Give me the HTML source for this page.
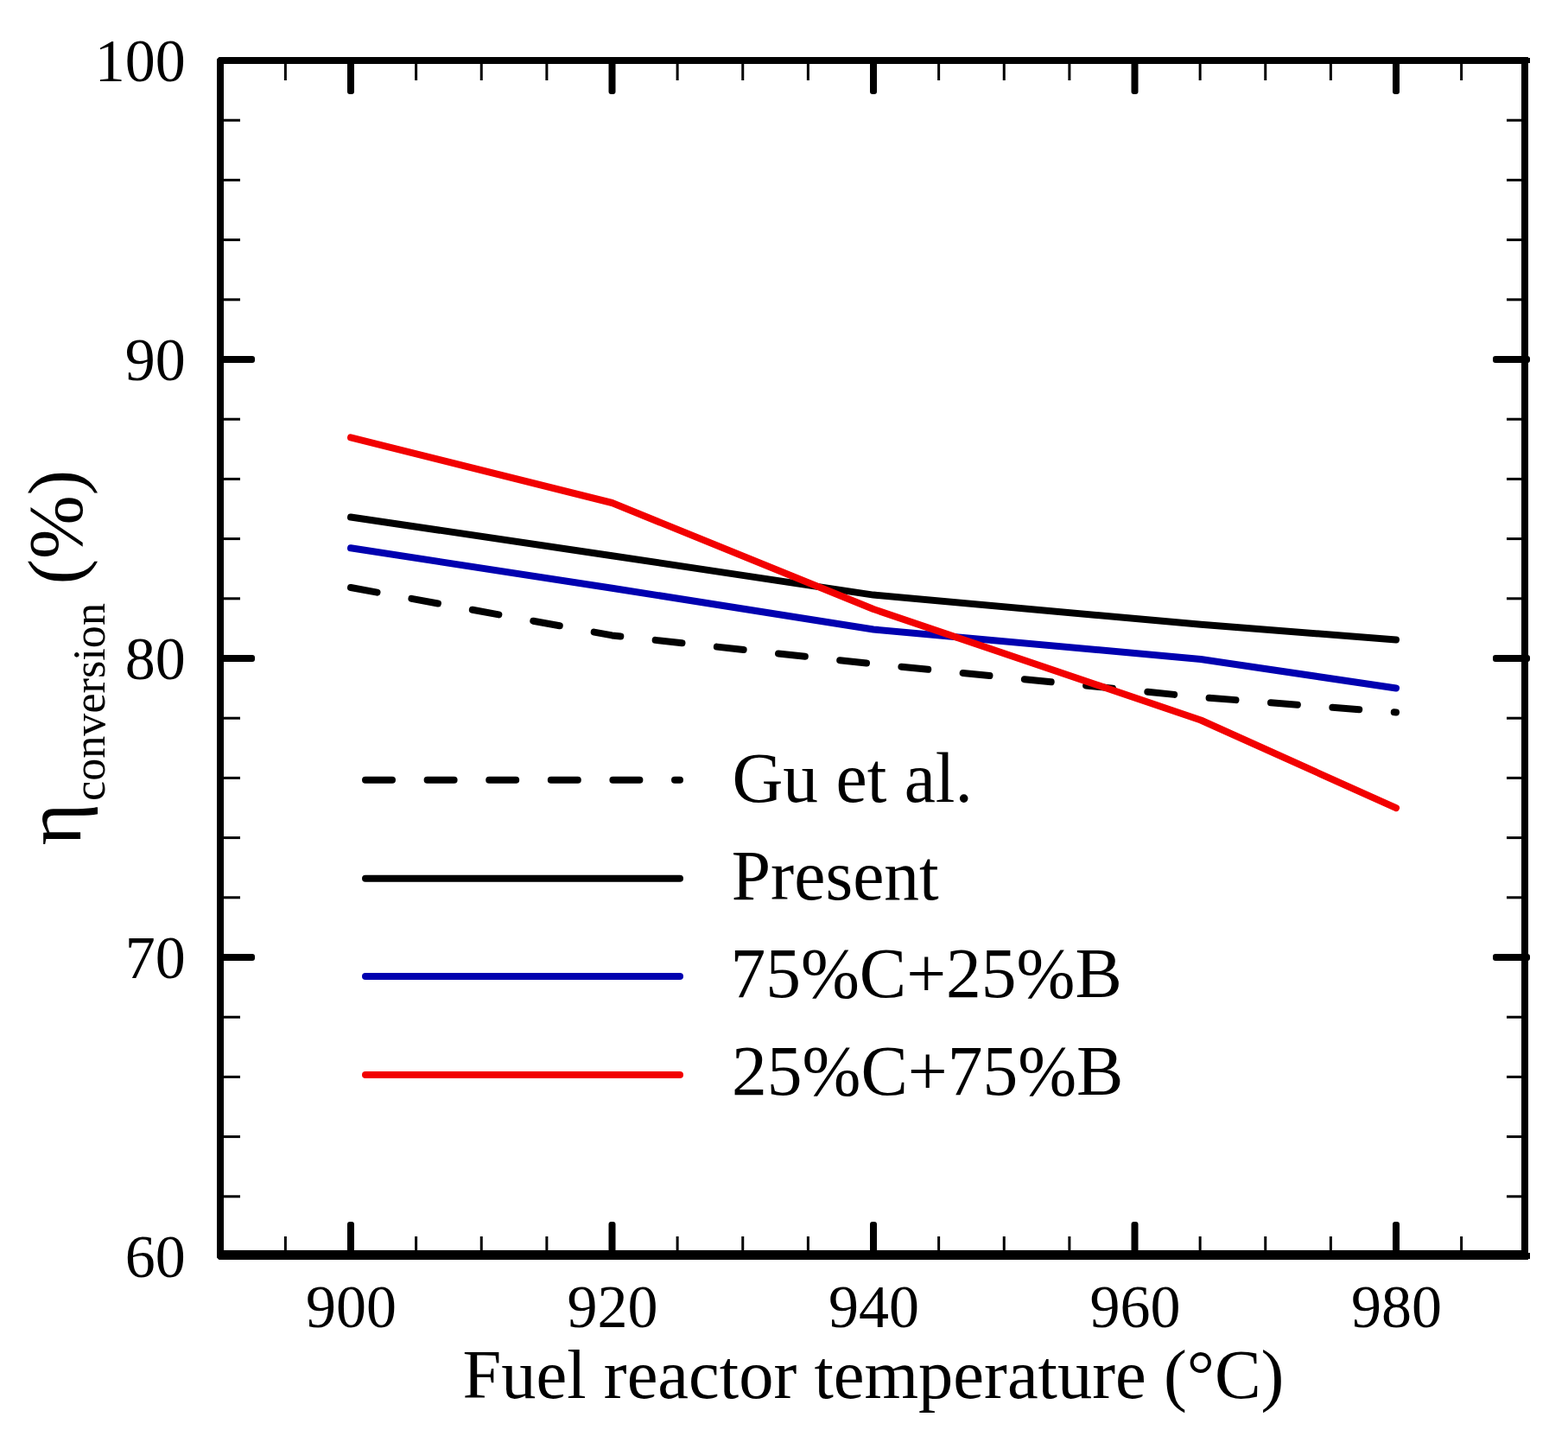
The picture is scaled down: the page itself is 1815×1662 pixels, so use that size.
<!DOCTYPE html>
<html><head><meta charset="utf-8"><title>Fuel reactor temperature chart</title>
<style>html,body{margin:0;padding:0;background:#fff;width:1815px;height:1662px;overflow:hidden}svg{display:block}text{font-family:"Liberation Serif","Times New Roman",serif;fill:#000}</style></head><body>
<svg width="1815" height="1662" viewBox="0 0 1815 1662">
<rect x="0" y="0" width="1815" height="1662" fill="#fff"/>
<g fill="none" stroke-width="8" stroke-linecap="round" stroke-linejoin="round">
<polyline points="406,680 708.5,735.4 1011,768.4 1390,807 1616,824.5" stroke="#000" stroke-dasharray="31 40.6"/>
<polyline points="406,598.5 708.5,643.2 1011,688.6 1390,722.8 1616,740.5" stroke="#000"/>
<polyline points="406,634.3 708.5,680.7 1011,728.5 1390,763 1616,796.5" stroke="#0000b0"/>
<polyline points="406,506.4 708.5,582 1011,705 1390,833.5 1616,935.2" stroke="#f20000"/>
<line x1="423" y1="902.7" x2="787" y2="902.7" stroke="#000" stroke-dasharray="31 40.6"/>
<line x1="423" y1="1016.7" x2="787" y2="1016.7" stroke="#000"/>
<line x1="423" y1="1130" x2="787" y2="1130" stroke="#0000b0"/>
<line x1="423" y1="1244" x2="787" y2="1244" stroke="#f20000"/>
</g>
<g fill="#000">
<rect x="251" y="66" width="8" height="1392"/>
<rect x="1761" y="66" width="8" height="1392"/>
<rect x="251" y="66" width="1518" height="8"/>
<rect x="1769" y="67" width="2" height="6"/>
<rect x="251" y="1447" width="1518" height="11"/>
<rect x="1769" y="1450" width="2" height="7"/>
<rect x="259" y="1383.3" width="19" height="3"/>
<rect x="1744" y="1383.3" width="17" height="3"/>
<rect x="259" y="1314.1" width="19" height="3"/>
<rect x="1744" y="1314.1" width="17" height="3"/>
<rect x="259" y="1244.9" width="19" height="3"/>
<rect x="1744" y="1244.9" width="17" height="3"/>
<rect x="259" y="1175.7" width="19" height="3"/>
<rect x="1744" y="1175.7" width="17" height="3"/>
<rect x="255" y="1104.0" width="40" height="8" rx="3"/>
<rect x="1728" y="1104.0" width="43" height="8" rx="3"/>
<rect x="259" y="1037.3" width="19" height="3"/>
<rect x="1744" y="1037.3" width="17" height="3"/>
<rect x="259" y="968.1" width="19" height="3"/>
<rect x="1744" y="968.1" width="17" height="3"/>
<rect x="259" y="898.9" width="19" height="3"/>
<rect x="1744" y="898.9" width="17" height="3"/>
<rect x="259" y="829.7" width="19" height="3"/>
<rect x="1744" y="829.7" width="17" height="3"/>
<rect x="255" y="758.0" width="40" height="8" rx="3"/>
<rect x="1728" y="758.0" width="43" height="8" rx="3"/>
<rect x="259" y="691.3" width="19" height="3"/>
<rect x="1744" y="691.3" width="17" height="3"/>
<rect x="259" y="622.1" width="19" height="3"/>
<rect x="1744" y="622.1" width="17" height="3"/>
<rect x="259" y="552.9" width="19" height="3"/>
<rect x="1744" y="552.9" width="17" height="3"/>
<rect x="259" y="483.7" width="19" height="3"/>
<rect x="1744" y="483.7" width="17" height="3"/>
<rect x="255" y="412.0" width="40" height="8" rx="3"/>
<rect x="1728" y="412.0" width="43" height="8" rx="3"/>
<rect x="259" y="345.3" width="19" height="3"/>
<rect x="1744" y="345.3" width="17" height="3"/>
<rect x="259" y="276.1" width="19" height="3"/>
<rect x="1744" y="276.1" width="17" height="3"/>
<rect x="259" y="206.9" width="19" height="3"/>
<rect x="1744" y="206.9" width="17" height="3"/>
<rect x="259" y="137.7" width="19" height="3"/>
<rect x="1744" y="137.7" width="17" height="3"/>
<rect x="328.88" y="74" width="3" height="19"/>
<rect x="328.88" y="1431" width="3" height="17"/>
<rect x="402.00" y="68" width="8" height="41" rx="3"/>
<rect x="402.00" y="1414" width="8" height="40" rx="3"/>
<rect x="480.12" y="74" width="3" height="19"/>
<rect x="480.12" y="1431" width="3" height="17"/>
<rect x="555.75" y="74" width="3" height="19"/>
<rect x="555.75" y="1431" width="3" height="17"/>
<rect x="631.38" y="74" width="3" height="19"/>
<rect x="631.38" y="1431" width="3" height="17"/>
<rect x="704.50" y="68" width="8" height="41" rx="3"/>
<rect x="704.50" y="1414" width="8" height="40" rx="3"/>
<rect x="782.62" y="74" width="3" height="19"/>
<rect x="782.62" y="1431" width="3" height="17"/>
<rect x="858.25" y="74" width="3" height="19"/>
<rect x="858.25" y="1431" width="3" height="17"/>
<rect x="933.88" y="74" width="3" height="19"/>
<rect x="933.88" y="1431" width="3" height="17"/>
<rect x="1007.00" y="68" width="8" height="41" rx="3"/>
<rect x="1007.00" y="1414" width="8" height="40" rx="3"/>
<rect x="1085.12" y="74" width="3" height="19"/>
<rect x="1085.12" y="1431" width="3" height="17"/>
<rect x="1160.75" y="74" width="3" height="19"/>
<rect x="1160.75" y="1431" width="3" height="17"/>
<rect x="1236.38" y="74" width="3" height="19"/>
<rect x="1236.38" y="1431" width="3" height="17"/>
<rect x="1309.50" y="68" width="8" height="41" rx="3"/>
<rect x="1309.50" y="1414" width="8" height="40" rx="3"/>
<rect x="1387.62" y="74" width="3" height="19"/>
<rect x="1387.62" y="1431" width="3" height="17"/>
<rect x="1463.25" y="74" width="3" height="19"/>
<rect x="1463.25" y="1431" width="3" height="17"/>
<rect x="1538.88" y="74" width="3" height="19"/>
<rect x="1538.88" y="1431" width="3" height="17"/>
<rect x="1612.00" y="68" width="8" height="41" rx="3"/>
<rect x="1612.00" y="1414" width="8" height="40" rx="3"/>
<rect x="1690.12" y="74" width="3" height="19"/>
<rect x="1690.12" y="1431" width="3" height="17"/>
<path d="M251,66h2.5L251,68.5Z M251,1458h2.5L251,1455.5Z" fill="#fff"/>
</g>
<g font-size="70" text-anchor="end">
<text x="214.8" y="93.9">100</text>
<text x="214.8" y="439.9">90</text>
<text x="214.8" y="785.9">80</text>
<text x="214.8" y="1131.9">70</text>
<text x="214.8" y="1477.9">60</text>
</g>
<g font-size="70" text-anchor="middle">
<text x="406.4" y="1536.2">900</text>
<text x="708.9" y="1536.2">920</text>
<text x="1011.4" y="1536.2">940</text>
<text x="1313.9" y="1536.2">960</text>
<text x="1616.4" y="1536.2">980</text>
</g>
<text x="535.6" y="1617.6" font-size="80.5">Fuel reactor temperature (°C)</text>
<g transform="rotate(-90)">
<text x="-978.5" y="93" font-size="94">η</text>
<text x="-927" y="121.3" font-size="52.2">conversion</text>
<text x="-676.5" y="93.8" font-size="88.6">(%)</text>
</g>
<g font-size="81.5">
<text x="847.5" y="928">Gu et al.</text>
<text x="846.8" y="1040.8">Present</text>
<text x="845.4" y="1154.2">75%C+25%B</text>
<text x="847" y="1267">25%C+75%B</text>
</g>
</svg>
</body></html>
